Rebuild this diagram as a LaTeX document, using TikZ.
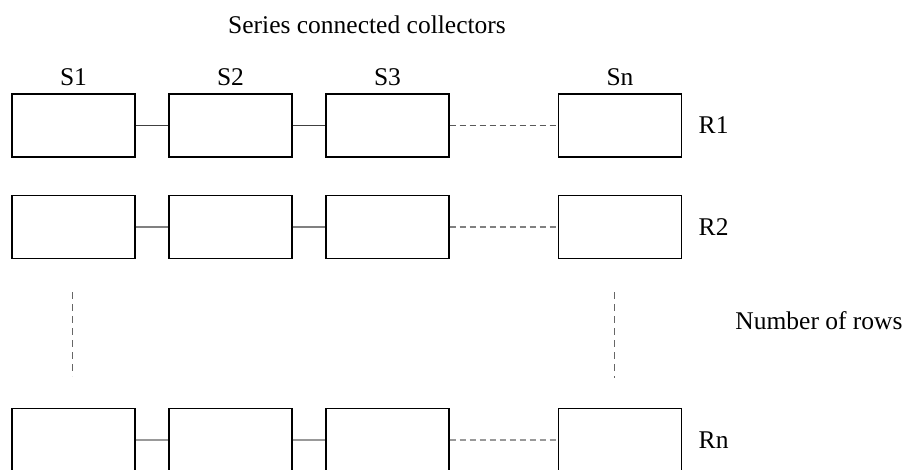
\documentclass[tikz,border=0pt]{standalone}
\usepackage{fontspec}
\setmainfont{Liberation Serif}
\usetikzlibrary{positioning}
\tikzset{collector/.style={draw, line width=1.4pt, minimum width=123pt, minimum height=63pt, inner sep=0pt},
	link/.style={line width=1.1pt, draw=black!75},
	dlink/.style={line width=1.1pt, draw=gray, dash pattern=on 6pt off 4pt},
	vdash/.style={line width=1pt, draw=gray!80!black, dash pattern=on 7pt off 5pt}}

\begin{document}
\begin{tikzpicture}[x=1pt, y=-1pt, node distance=157pt, font=\fontsize{25.5}{28}\selectfont]
		\useasboundingbox (0,0) rectangle (915,470);
		\node(title) at (367,25){Series connected collectors};
		% first row
		\node(A1)[collector] at (73.5,125.5){};
		\node(A2)[collector, right of=A1]{};
		\node(A3)[collector, right of=A2]{};
		\node(An)[collector, right of=A3, node distance=232.5pt]{};
		% second row
		\node(B1)[collector, below of=A1, node distance=101.5pt]{};
		\node(B2)[collector, right of=B1]{};
		\node(B3)[collector, right of=B2]{};
		\node(Bn)[collector, right of=B3, node distance=232.5pt]{};
		% last row
		\node(C1)[collector, below of=B1, node distance=213pt]{};
		\node(C2)[collector, right of=C1]{};
		\node(C3)[collector, right of=C2]{};
		\node(Cn)[collector, right of=C3, node distance=232.5pt]{};
		% labels
		\node(lS1)[above=4pt of A1]{S1};
		\node(lS2)[above=4pt of A2]{S2};
		\node(lS3)[above=4pt of A3]{S3};
		\node(lSn)[above=4pt of An]{Sn};
		\node(lR1)[right=13pt of An]{R1};
		\node(lR2)[right=13pt of Bn]{R2};
		\node(lRn)[right=13pt of Cn]{Rn};
		\node(nrows) at (819,321){Number of rows};
		% connectors
		\draw[link](A1) -- (A2);
		\draw[link](A2) -- (A3);
		\draw[dlink, draw=black!65](A3) -- (An);
		\draw[link, draw=gray](B1) -- (B2);
		\draw[link, draw=gray](B2) -- (B3);
		\draw[dlink](B3) -- (Bn);
		\draw[link, draw=gray!80](C1) -- (C2);
		\draw[link, draw=gray!80](C2) -- (C3);
		\draw[dlink, draw=gray!80](C3) -- (Cn);
		\coordinate(v1a) at (72,292);
		\coordinate(v1b) at (72,376);
		\coordinate(vna) at (614,292);
		\coordinate(vnb) at (614,378);
		\draw[vdash](v1a) -- (v1b);
		\draw[vdash](vna) -- (vnb);
	\end{tikzpicture}
\end{document}
